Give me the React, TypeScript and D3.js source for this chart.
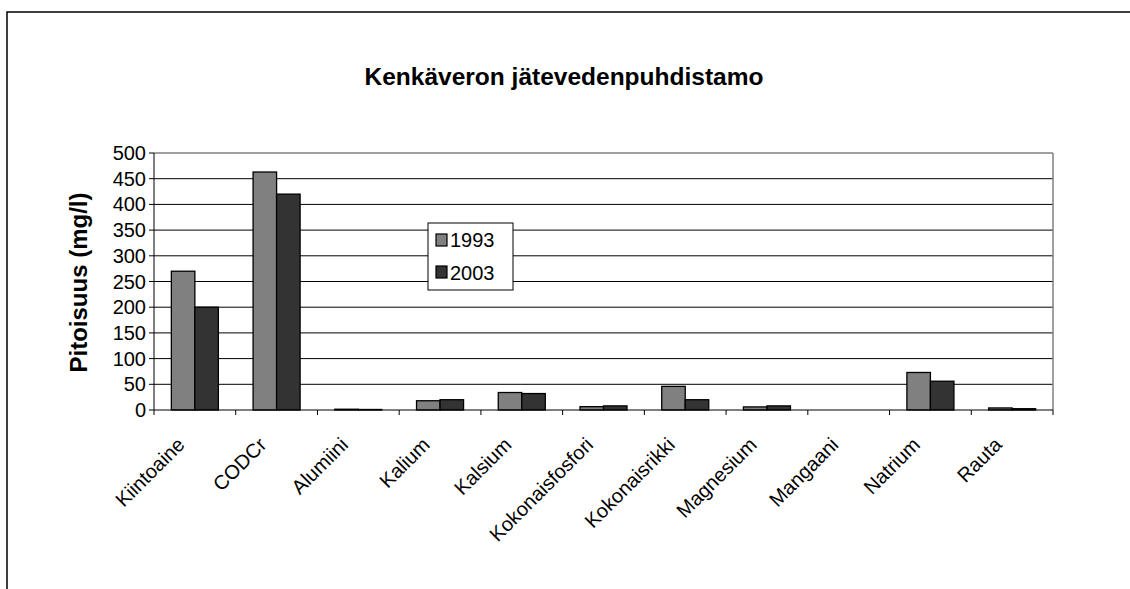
import React from "react";
import * as d3 from "d3";

const categories = [
  "Kiintoaine",
  "CODCr",
  "Alumiini",
  "Kalium",
  "Kalsium",
  "Kokonaisfosfori",
  "Kokonaisrikki",
  "Magnesium",
  "Mangaani",
  "Natrium",
  "Rauta",
];
const seriesNames = ["1993", "2003"];
const values1993 = [270, 463, 1.5, 18, 34, 6.5, 46, 6, 0, 73, 4];
const values2003 = [200, 420, 1, 20, 32, 8, 20, 8, 0, 56, 2.5];
const yTicks = [0, 50, 100, 150, 200, 250, 300, 350, 400, 450, 500];
const colors = ["#808080", "#333333"];

const W = 1130;
const H = 589;
const plot = { left: 154, right: 1053, top: 153, bottom: 410 };
const FONT = "'Liberation Sans', Arial, sans-serif";

export default function App() {
  const x = d3
    .scaleBand<string>()
    .domain(categories)
    .range([plot.left, plot.right])
    .paddingInner(0)
    .paddingOuter(0);
  const xs = d3
    .scaleBand<string>()
    .domain(seriesNames)
    .range([0, x.step()])
    .paddingInner(0)
    .paddingOuter(0.738);
  const y = d3.scaleLinear().domain([0, 500]).range([plot.bottom, plot.top]);
  const series = [values1993, values2003];

  return (
    <svg
      width={W}
      height={H}
      style={{ position: "absolute", left: 0, top: 0, background: "#fff" }}
      fontFamily={FONT}
    >
      <rect x={0} y={0} width={W} height={H} fill="#fff" />
      {/* outer chart border */}
      <rect x={7} y={12} width={W + 20} height={H + 20} fill="none" stroke="#000" strokeWidth={1.5} />

      {/* title */}
      <text x={564} y={85} textAnchor="middle" fontSize={24.5} fontWeight="bold" fill="#000">
        Kenkäveron jätevedenpuhdistamo
      </text>

      {/* gridlines */}
      {yTicks.slice(1, -1).map((t) => (
        <line key={t} x1={plot.left} x2={plot.right} y1={y(t)} y2={y(t)} stroke="#000" strokeWidth={1} />
      ))}
      {/* plot area top and right border */}
      <line x1={plot.left} x2={plot.right} y1={plot.top} y2={plot.top} stroke="#808080" strokeWidth={1.5} />
      <line x1={plot.right} x2={plot.right} y1={plot.top} y2={plot.bottom} stroke="#808080" strokeWidth={1.5} />

      {/* bars */}
      {series.map((vals, si) =>
        vals.map((v, i) => {
          if (v <= 0) return null;
          const bx = (x(categories[i]) as number) + (xs(seriesNames[si]) as number);
          const by = y(v);
          return (
            <rect
              key={`${si}-${i}`}
              x={bx}
              y={by}
              width={xs.bandwidth()}
              height={Math.max(0, plot.bottom - by)}
              fill={colors[si]}
              stroke="#000"
              strokeWidth={1.3}
            />
          );
        })
      )}

      {/* y axis */}
      <line x1={plot.left} x2={plot.left} y1={plot.top} y2={plot.bottom} stroke="#000" strokeWidth={1} />
      {yTicks.map((t) => (
        <g key={t}>
          <line x1={plot.left - 5} x2={plot.left} y1={y(t)} y2={y(t)} stroke="#000" strokeWidth={1} />
          <text x={plot.left - 8} y={y(t) + 7} textAnchor="end" fontSize={20} fill="#000">
            {t}
          </text>
        </g>
      ))}
      <text
        transform={`translate(87, ${(plot.top + plot.bottom) / 2 + 1}) rotate(-90)`}
        textAnchor="middle"
        fontSize={24}
        fontWeight="bold"
        fill="#000"
      >
        Pitoisuus (mg/l)
      </text>

      {/* x axis */}
      <line x1={plot.left} x2={plot.right} y1={plot.bottom} y2={plot.bottom} stroke="#000" strokeWidth={1} />
      {categories.map((c, i) => (
        <line
          key={`t${i}`}
          x1={x(c) as number}
          x2={x(c) as number}
          y1={plot.bottom}
          y2={plot.bottom + 5}
          stroke="#000"
        />
      ))}
      <line x1={plot.right} x2={plot.right} y1={plot.bottom} y2={plot.bottom + 5} stroke="#000" />
      {categories.map((c) => {
        const cx = (x(c) as number) + x.bandwidth() / 2 - 9;
        return (
          <text
            key={c}
            transform={`translate(${cx}, 446) rotate(-45)`}
            textAnchor="end"
            fontSize={20}
            fill="#000"
          >
            {c}
          </text>
        );
      })}

      {/* legend */}
      <rect x={428} y={223} width={85} height={67} fill="#fff" stroke="#000" strokeWidth={1} />
      {seriesNames.map((s, i) => (
        <g key={s}>
          <rect x={436} y={234 + i * 32} width={11} height={12} fill={colors[i]} stroke="#000" strokeWidth={1.2} />
          <text x={450} y={247 + i * 32.5} fontSize={20} fill="#000">
            {s}
          </text>
        </g>
      ))}
    </svg>
  );
}
